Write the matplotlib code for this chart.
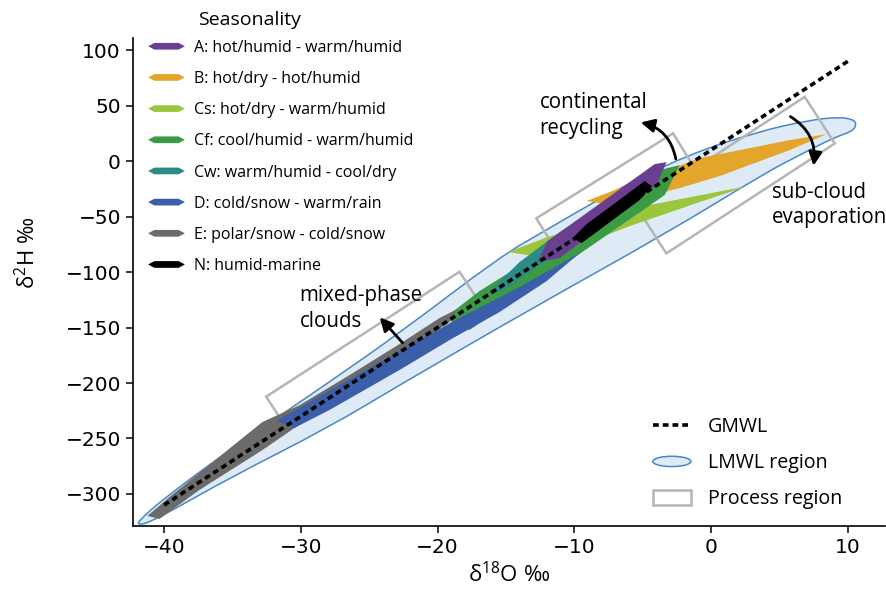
import numpy as np
import matplotlib
matplotlib.use("Agg")
import matplotlib.pyplot as plt
from matplotlib.patches import Polygon, PathPatch, Ellipse, Rectangle, Patch, FancyArrowPatch
from matplotlib.path import Path
from matplotlib.lines import Line2D
from matplotlib.legend_handler import HandlerPatch

plt.rcParams['mathtext.fontset'] = 'custom'
plt.rcParams['mathtext.rm'] = 'Open Sans'
plt.rcParams['mathtext.it'] = 'Open Sans:italic'
TXT = ['Open Sans', 'DejaVu Sans']

# ---------------- data ----------------
gmwl_x = [-40.0, 10.0]
gmwl_slope, gmwl_intercept = 8.0, 10.0

# LMWL region outline (upper edge left->right, then lower edge right->left)
lmwl_x = [-41.96, -39.98, -35.22, -28.13, -22.79, -15.47, -12.33, -7.43, -1.79, 3.55, 7.21, 9.25, 10.35, 10.64,
          10.35, 8.89, 6.47, 4.06, -3.26, -13.06, -22.79, -27.91, -35.22, -39.61, -41.07, -41.80]
lmwl_y = [-325.2, -303.6, -260.4, -200.9, -155.0, -86.5, -64.0, -28.8, 5.4, 27.0, 36.9, 39.6, 37.8, 33.3,
          27.0, 20.7, 5.4, -9.9, -64.9, -132.4, -201.8, -239.6, -285.6, -316.2, -325.2, -327.9]

# process regions (corners)
mixed_x = [-32.54, -18.40, -16.86, -31.00]
mixed_y = [-212.3, -99.7, -129.0, -241.6]
recyc_x = [-12.79, -2.79, -1.06, -11.05]
recyc_y = [-51.6, 25.0, -9.5, -86.0]
subcl_x = [-5.47, 6.84, 9.04, -3.28]
subcl_y = [-41.2, 57.9, 15.9, -83.2]

# seasonality regions
season_labels = ['A: hot/humid - warm/humid', 'B: hot/dry - hot/humid', 'Cs: hot/dry - warm/humid',
                 'Cf: cool/humid - warm/humid', 'Cw: warm/humid - cool/dry', 'D: cold/snow - warm/rain',
                 'E: polar/snow - cold/snow', 'N: humid-marine']
season_colors = ['#6b3f8f', '#e3a62b', '#9bc53d', '#3b9a44', '#2c8c85', '#3a5ea9', '#6b6b6b', '#000000']

A_x = [-12.69, -11.96, -4.13, -3.26, -3.99, -11.08]
A_y = [-91.0, -72.1, -2.7, -0.9, -21.6, -87.4]
B_x = [-9.11, -6.69, -0.84, 5.74, 8.45, 5.74, 0.62, -2.30, -5.23, -8.16]
B_y = [-36.0, -24.3, 2.7, 18.9, 24.3, 9.9, -13.5, -24.3, -33.3, -37.8]
Cs_x = [-14.88, -11.96, -4.50, 2.67, -0.84, -5.96, -11.96]
Cs_y = [-82.0, -68.5, -39.6, -22.5, -36.9, -58.6, -87.4]
Cf_x = [-19.48, -16.94, -11.08, -3.77, -2.30, -3.40, -17.67]
Cf_y = [-141.4, -117.1, -72.1, -8.1, -3.6, -30.6, -152.3]
Cw_x = [-16.35, -14.01, -11.08, -5.96, -4.86, -6.69, -12.55, -15.11]
Cw_y = [-118.9, -91.0, -64.0, -22.5, -17.1, -39.6, -93.7, -116.2]
D_x = [-31.78, -27.91, -22.79, -18.40, -14.01, -9.62, -12.03, -15.47, -19.13, -22.79, -27.91, -30.47]
D_y = [-234.2, -207.2, -171.2, -141.4, -113.5, -82.9, -108.1, -136.0, -161.3, -188.3, -224.3, -240.5]
E_x = [-41.22, -39.61, -32.81, -30.1, -26.44, -22.79, -19.86, -18.55, -19.13, -22.79, -27.91, -32.81, -37.42, -40.34]
E_y = [-319.8, -302.7, -235.1, -220.0, -192.8, -164.9, -141.4, -133.3, -145.0, -175.7, -218.9, -260.4, -296.4, -322.5]
N_x = [-10.13, -9.11, -4.86, -4.35, -5.23, -9.47]
N_y = [-69.4, -56.8, -18.0, -22.5, -35.1, -73.9]

# drawing order bottom -> top (index into season lists)
shapes = {0: (A_x, A_y), 1: (B_x, B_y), 2: (Cs_x, Cs_y), 3: (Cf_x, Cf_y),
          4: (Cw_x, Cw_y), 5: (D_x, D_y), 6: (E_x, E_y), 7: (N_x, N_y)}
draw_order = [1, 2, 3, 4, 6, 5, 0, 7]

# process arrows (tail -> head, curvature) and labels
arrows = [((-22.42, -165.8), (-24.37, -139.0), 0.0),
          ((-2.55, -0.6), (-5.35, 35.4), 0.35),
          ((5.62, 41.4), (7.45, -6.6), -0.35)]
labels = [('mixed-phase\nclouds', (-30.1, -132.9)),
          ('continental\nrecycling', (-12.55, 41.4)),
          ('sub-cloud\nevaporation', (4.43, -39.6))]

# ---------------- figure ----------------
fig = plt.figure(figsize=(8.87, 5.92), dpi=100)
ax = fig.add_axes([0.1496, 0.112, 0.848, 0.823])
ax.set_xlim(-42.3, 12.7)
ax.set_ylim(-328.6, 110.5)

# LMWL region as smooth closed quadratic B-spline
P = np.column_stack([lmwl_x, lmwl_y])
M = (P + np.roll(P, -1, axis=0)) / 2.0
verts = [M[-1]]
codes = [Path.MOVETO]
for i in range(len(P)):
    verts += [P[i], M[i]]
    codes += [Path.CURVE3, Path.CURVE3]
verts.append(M[-1]); codes.append(Path.CLOSEPOLY)
ax.add_patch(PathPatch(Path(verts, codes), facecolor='#deebf7', edgecolor='#4a86c8', lw=1.1, zorder=1))

for bx, by in [(mixed_x, mixed_y), (recyc_x, recyc_y), (subcl_x, subcl_y)]:
    ax.add_patch(Polygon(np.column_stack([bx, by]), closed=True, fill=False,
                         edgecolor='#b5b5b5', lw=1.8, zorder=2))

for k, idx in enumerate(draw_order):
    sx, sy = shapes[idx]
    ax.add_patch(Polygon(np.column_stack([sx, sy]), closed=True, facecolor=season_colors[idx],
                         edgecolor='none', zorder=3 + k))

gx = np.array(gmwl_x)
ax.plot(gx, gmwl_slope * gx + gmwl_intercept, color='black', lw=2.6, ls=(0, (1.6, 1.1)), zorder=20)

for (t, h, rad) in arrows:
    ax.add_patch(FancyArrowPatch(t, h, connectionstyle=f'arc3,rad={rad}', arrowstyle='-|>',
                                 mutation_scale=20, lw=2.0, color='black', zorder=21))
for txt, (lx, ly) in labels:
    ax.text(lx, ly, txt, family=TXT, fontsize=14.8, ha='left', va='center', linespacing=1.3, zorder=22)

ax.spines['top'].set_visible(False)
ax.spines['right'].set_visible(False)
for s in ['left', 'bottom']:
    ax.spines[s].set_linewidth(1.2)
ax.set_xticks([-40, -30, -20, -10, 0, 10])
ax.set_yticks([100, 50, 0, -50, -100, -150, -200, -250, -300])
ax.tick_params(labelsize=14.5, length=5, width=1.1)
ax.set_xlabel('δ$^{18}$O ‰', family=TXT, fontsize=16, labelpad=4)
ax.set_ylabel('δ$^{2}$H ‰', family=TXT, fontsize=16)
ax.yaxis.set_label_coords(-0.1227, 0.56)

# legend 1 : seasonality
def spindle(legend, orig_handle, xdescent, ydescent, width, height, fontsize):
    cy = -ydescent + height / 2.0
    x0, x1 = -xdescent, -xdescent + width
    t = height * 0.3
    e = width * 0.17
    return Polygon([(x0, cy), (x0 + e, cy + t), (x1 - e, cy + t), (x1, cy), (x1 - e, cy - t), (x0 + e, cy - t)],
                   closed=True)

proxies = [Patch(facecolor=c, edgecolor='none') for c in season_colors]
leg1 = ax.legend(proxies, season_labels, loc='upper left', bbox_to_anchor=(0.012, 1.0103),
                 frameon=False, prop={'family': TXT, 'size': 11.5}, handlelength=2.3,
                 handletextpad=0.6, labelspacing=0.95, borderaxespad=0.0,
                 handler_map={Patch: HandlerPatch(patch_func=spindle)})
ax.add_artist(leg1)
fig.text(198 / 887, 1 - 20 / 592, 'Seasonality', family=TXT, fontsize=14, ha='left', va='center')

# legend 2 : lines/regions
def ell(legend, orig_handle, xdescent, ydescent, width, height, fontsize):
    return Ellipse((-xdescent + width / 2, -ydescent + height / 2), width, height * 0.75)

def rect(legend, orig_handle, xdescent, ydescent, width, height, fontsize):
    return Rectangle((-xdescent, -ydescent - height * 0.05), width, height * 1.1)

h_gmwl = Line2D([], [], color='black', lw=2.6, ls=(0, (1.6, 1.1)))
h_lmwl = Ellipse((0, 0), 1, 1, facecolor='#deebf7', edgecolor='#4a86c8', lw=1.1)
h_proc = Rectangle((0, 0), 1, 1, facecolor='white', edgecolor='#b5b5b5', lw=1.8)
ax.legend([h_gmwl, h_lmwl, h_proc], ['GMWL', 'LMWL region', 'Process region'],
          loc='lower left', bbox_to_anchor=(0.681, 0.0175), frameon=False,
          prop={'family': TXT, 'size': 14.1}, handlelength=1.95, handletextpad=0.85,
          labelspacing=0.82, borderaxespad=0.0,
          handler_map={Ellipse: HandlerPatch(patch_func=ell), Rectangle: HandlerPatch(patch_func=rect)})

fig.savefig('out.png', dpi=100)
